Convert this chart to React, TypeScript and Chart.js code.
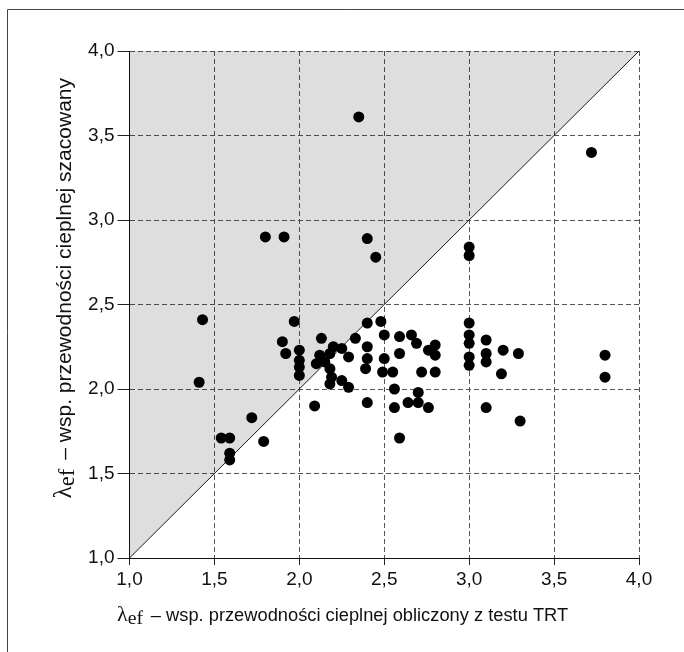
import React, { useEffect, useRef } from "react";
import { Chart, registerables } from "chart.js";

Chart.register(...registerables);

// λef obliczony z testu TRT (x) vs λef szacowany (y)
const xMeasured = [
  1.43, 1.41, 1.80, 1.91, 2.35, 2.40, 2.45, 1.97, 1.90, 1.92, 2.00, 2.00, 2.00, 2.00,
  1.72, 1.54, 1.59, 1.79, 1.59, 1.59, 2.09,
  2.13, 2.12, 2.10, 2.15, 2.20, 2.18, 2.25, 2.18, 2.19, 2.18, 2.25, 2.29, 2.29, 2.33,
  2.40, 2.48, 2.50, 2.40, 2.40, 2.39, 2.40, 2.50, 2.49, 2.55, 2.56, 2.56,
  2.59, 2.59, 2.66, 2.69, 2.76, 2.80, 2.80, 2.72, 2.80, 2.70, 2.64, 2.70, 2.76, 2.59,
  3.00, 3.00, 3.00, 3.00, 3.00, 3.00, 3.00,
  3.10, 3.10, 3.10, 3.10, 3.20, 3.29, 3.19, 3.30,
  3.80, 3.80, 3.72,
];
const yEstimated = [
  2.41, 2.04, 2.90, 2.90, 3.61, 2.89, 2.78, 2.40, 2.28, 2.21, 2.23, 2.17, 2.13, 2.08,
  1.83, 1.71, 1.71, 1.69, 1.62, 1.58, 1.90,
  2.30, 2.20, 2.15, 2.16, 2.25, 2.21, 2.24, 2.12, 2.07, 2.03, 2.05, 2.01, 2.19, 2.30,
  2.39, 2.40, 2.32, 2.25, 2.18, 2.12, 1.92, 2.18, 2.10, 2.10, 2.00, 1.89,
  2.31, 2.21, 2.32, 2.27, 2.23, 2.26, 2.20, 2.10, 2.10, 1.98, 1.92, 1.92, 1.89, 1.71,
  2.84, 2.79, 2.39, 2.32, 2.27, 2.19, 2.14,
  2.29, 2.21, 2.16, 1.89, 2.23, 2.21, 2.09, 1.81,
  2.20, 2.07, 3.40,
];

const tickValues = [1, 1.5, 2, 2.5, 3, 3.5, 4];
const tickLabels = ["1,0", "1,5", "2,0", "2,5", "3,0", "3,5", "4,0"];
const diagonalEnds = [1, 4];

const lambdaSymbol = "λ";
const lambdaSub = "ef";
const xTitleRest = " – wsp. przewodności cieplnej obliczony z testu TRT";
const yTitleRest = " – wsp. przewodności cieplnej szacowany";

const SANS = "'Liberation Sans', Arial, sans-serif";
const SERIF = "'Liberation Serif', 'Times New Roman', serif";

function titleParts(ctx: CanvasRenderingContext2D, size: number, rest: string) {
  ctx.font = `${size * 1.2}px ${SERIF}`;
  const wL = ctx.measureText(lambdaSymbol).width;
  ctx.font = `${size * 1.08}px ${SERIF}`;
  const wS = ctx.measureText(lambdaSub).width;
  ctx.font = `${size}px ${SANS}`;
  const wR = ctx.measureText(rest).width;
  const gap = size * 0.15;
  return { wL, wS, wR, gap, total: wL + wS + gap + wR };
}

function drawTitle(ctx: CanvasRenderingContext2D, size: number, rest: string) {
  const p = titleParts(ctx, size, rest);
  ctx.fillStyle = "#111";
  ctx.textAlign = "left";
  ctx.textBaseline = "alphabetic";
  ctx.font = `${size * 1.2}px ${SERIF}`;
  ctx.fillText(lambdaSymbol, 0, 0);
  ctx.font = `${size * 1.08}px ${SERIF}`;
  ctx.fillText(lambdaSub, p.wL, size * 0.16);
  ctx.font = `${size}px ${SANS}`;
  ctx.fillText(rest, p.wL + p.wS + p.gap, 0);
}

const decorPlugin = {
  id: "decor",
  afterDraw(chart: any) {
    const ctx: CanvasRenderingContext2D = chart.ctx;
    ctx.save();
    // outer frame (top and left visible)
    ctx.strokeStyle = "#444";
    ctx.lineWidth = 1;
    ctx.beginPath();
    ctx.moveTo(7.5, 700);
    ctx.lineTo(7.5, 9.5);
    ctx.lineTo(700, 9.5);
    ctx.stroke();

    // x title
    ctx.save();
    ctx.translate(117, 621);
    drawTitle(ctx, 18.3, xTitleRest);
    ctx.restore();

    // y title (rotated)
    const ySize = 21;
    const p = titleParts(ctx, ySize, yTitleRest);
    ctx.save();
    ctx.translate(71, 78 + p.total);
    ctx.rotate(-Math.PI / 2);
    drawTitle(ctx, ySize, yTitleRest);
    ctx.restore();

    ctx.restore();
  },
};

function tickLabel(v: number | string) {
  const i = tickValues.findIndex((t) => Math.abs(t - Number(v)) < 1e-9);
  return i >= 0 ? tickLabels[i] : "";
}

export default function App() {
  const ref = useRef<HTMLCanvasElement | null>(null);

  useEffect(() => {
    if (!ref.current) return;
    const points = xMeasured.map((x, i) => ({ x, y: yEstimated[i] }));
    const diag = diagonalEnds.map((v) => ({ x: v, y: v }));

    const axisCommon = (tickLength: number) => ({
      type: "linear" as const,
      min: tickValues[0],
      max: tickValues[tickValues.length - 1],
      afterBuildTicks: (s: any) => {
        s.ticks = tickValues.map((v) => ({ value: v }));
      },
      ticks: {
        callback: (v: any) => tickLabel(v),
        font: { family: SANS, size: 19 },
        color: "#111",
        padding: 3,
        autoSkip: false,
        maxRotation: 0,
      },
      grid: {
        color: "#555",
        lineWidth: 1,
        tickLength,
        tickColor: "#222",
        drawTicks: true,
        drawOnChartArea: true,
      },
      border: { display: true, color: "#111", width: 1, dash: [5, 3] },
    });

    const chart = new Chart(ref.current, {
      type: "scatter",
      data: {
        datasets: [
          {
            type: "scatter",
            data: points,
            pointRadius: 5.5,
            pointHoverRadius: 5.5,
            backgroundColor: "#000",
            borderWidth: 0,
            order: 1,
          } as any,
          {
            type: "line",
            data: diag,
            borderColor: "#1a1a1a",
            borderWidth: 1,
            pointRadius: 0,
            fill: "end",
            backgroundColor: "rgba(0,0,0,0.13)",
            order: 2,
          } as any,
        ],
      },
      options: {
        responsive: false,
        animation: false,
        events: [],
        layout: { padding: { top: 51, right: 45, left: 0, bottom: 0 } },
        plugins: {
          legend: { display: false },
          tooltip: { enabled: false },
          title: { display: false },
        },
        scales: {
          x: {
            ...axisCommon(7),
            afterFit: (s: any) => {
              s.height = 94;
            },
          },
          y: {
            ...axisCommon(12),
            afterFit: (s: any) => {
              s.width = 129.5;
            },
          },
        } as any,
      },
      plugins: [decorPlugin],
    });
    return () => chart.destroy();
  }, []);

  return (
    <div
      style={{
        position: "fixed",
        left: 0,
        top: 0,
        width: 684,
        height: 652,
        background: "#fff",
        overflow: "hidden",
      }}
    >
      <canvas ref={ref} width={684} height={652} style={{ display: "block" }} />
    </div>
  );
}
